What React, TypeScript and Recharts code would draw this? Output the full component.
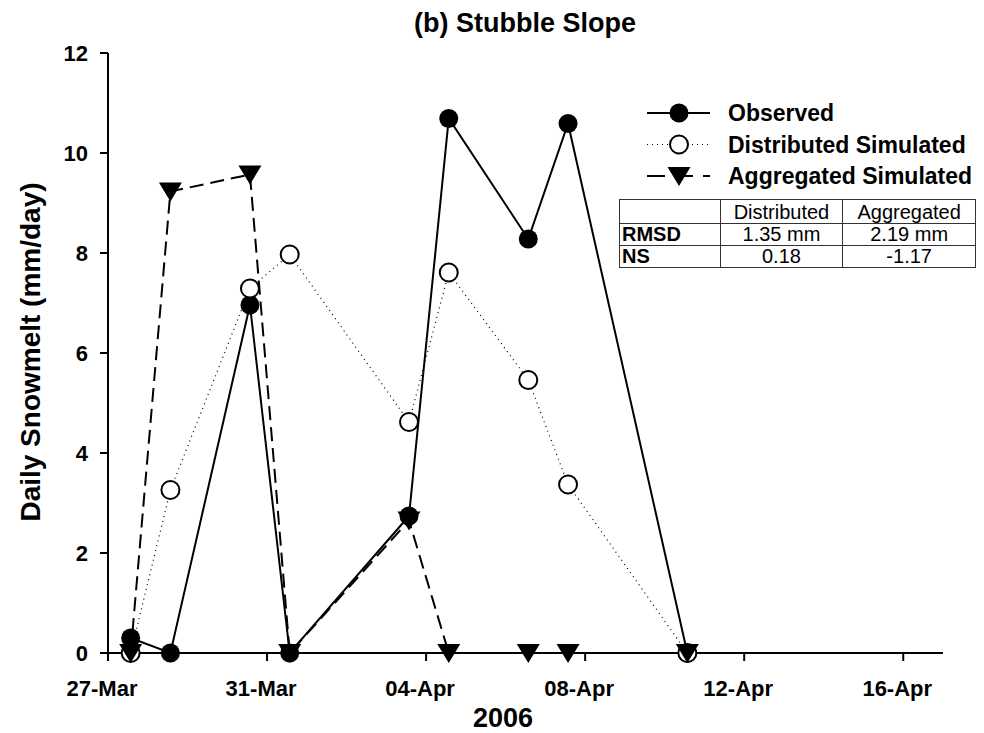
import React from "react";
import { Label, Legend, Line, LineChart, XAxis, YAxis } from "recharts";

// days after 27-Mar at which the snowmelt was recorded / simulated
const DAYS = [0.57, 1.57, 3.57, 4.57, 7.57, 8.57, 10.57, 11.57, 14.57];
const OBSERVED = [0.3, 0, 6.96, 0, 2.74, 10.69, 8.28, 10.59, 0];
const DISTRIBUTED = [0, 3.26, 7.29, 7.97, 4.62, 7.61, 5.46, 3.37, 0];
const AGGREGATED = [0, 9.23, 9.57, 0, 2.65, 0, 0, 0, 0];

const X_TICKS = [0, 4, 8, 12, 16, 20];
const X_TICK_LABELS = ["27-Mar", "31-Mar", "04-Apr", "08-Apr", "12-Apr", "16-Apr"];
const Y_TICKS = [0, 2, 4, 6, 8, 10, 12];

const SERIES_NAMES = ["Observed", "Distributed Simulated", "Aggregated Simulated"];
const STATS_HEADER = ["", "Distributed", "Aggregated"];
const STATS_ROWS = [
  ["RMSD", "1.35 mm", "2.19 mm"],
  ["NS", "0.18", "-1.17"],
];

const data = DAYS.map((day, i) => ({
  day,
  observed: OBSERVED[i],
  distributed: DISTRIBUTED[i],
  aggregated: AGGREGATED[i],
}));

const FONT = "'Liberation Sans', Arial, sans-serif";
const INK = "#000";

function FilledDot({ cx, cy }: { cx: number; cy: number }) {
  return <circle cx={cx} cy={cy} r={9.5} fill={INK} />;
}

function OpenDot({ cx, cy }: { cx: number; cy: number }) {
  return <circle cx={cx} cy={cy} r={9} fill="#fff" stroke={INK} strokeWidth={2} />;
}

function TriangleDot({ cx, cy }: { cx: number; cy: number }) {
  const d = `M${cx - 11.5},${cy - 9} L${cx + 11.5},${cy - 9} L${cx},${cy + 10} Z`;
  return <path d={d} fill={INK} />;
}

// symbol key plus the fit statistics table, drawn in the upper right
function LegendBlock() {
  const rows = [23, 54.5, 86];
  return (
    <div style={{ position: "relative", width: 384, height: 190 }}>
      <svg width={384} height={100} style={{ position: "absolute", left: 0, top: 0 }}>
        <line x1={47} y1={rows[0]} x2={110} y2={rows[0]} stroke={INK} strokeWidth={2} />
        <FilledDot cx={79} cy={rows[0]} />
        <line x1={47} y1={rows[1]} x2={110} y2={rows[1]} stroke={INK} strokeWidth={1.2} strokeDasharray="1 4" />
        <OpenDot cx={79} cy={rows[1]} />
        <line x1={47} y1={rows[2]} x2={110} y2={rows[2]} stroke={INK} strokeWidth={2} strokeDasharray="18 10" />
        <TriangleDot cx={79} cy={rows[2]} />
        {SERIES_NAMES.map((name, i) => (
          <text
            key={name}
            x={128}
            y={rows[i] + 8}
            fontFamily={FONT}
            fontWeight="bold"
            fontSize={23}
            fill={INK}
          >
            {name}
          </text>
        ))}
      </svg>
      <table
        style={{
          position: "absolute",
          left: 19,
          top: 109,
          width: 357,
          borderCollapse: "collapse",
          fontFamily: FONT,
          fontSize: 20,
          color: INK,
        }}
      >
        <colgroup>
          <col style={{ width: 101 }} />
          <col style={{ width: 123 }} />
          <col style={{ width: 133 }} />
        </colgroup>
        <tbody>
          <tr style={{ height: 24 }}>
            {STATS_HEADER.map((h, i) => (
              <td key={i} style={{ border: "1px solid #333", padding: 0, textAlign: "center", lineHeight: "22px" }}>
                {h}
              </td>
            ))}
          </tr>
          {STATS_ROWS.map((row) => (
            <tr key={row[0]} style={{ height: 22 }}>
              {row.map((cell, i) => (
                <td
                  key={i}
                  style={{
                    border: "1px solid #333",
                    padding: i === 0 ? "0 0 0 2px" : 0,
                    textAlign: i === 0 ? "left" : "center",
                    fontWeight: i === 0 ? "bold" : "normal",
                    lineHeight: "21px",
                  }}
                >
                  {cell}
                </td>
              ))}
            </tr>
          ))}
        </tbody>
      </table>
    </div>
  );
}

const tickStyle = { fill: INK, fontSize: 22, fontWeight: "bold", fontFamily: FONT };

export default function App() {
  return (
    <div style={{ position: "absolute", left: 0, top: 0, width: 984, height: 733, background: "#fff" }}>
      <svg width={984} height={50} style={{ position: "absolute", left: 0, top: 0 }}>
        <text x={525} y={32} textAnchor="middle" fontFamily={FONT} fontWeight="bold" fontSize={27} fill={INK}>
          (b) Stubble Slope
        </text>
      </svg>
      <LineChart width={984} height={733} data={data} margin={{ top: 53, right: 41, bottom: 0, left: 0 }}>
        <XAxis
          type="number"
          dataKey="day"
          domain={[0, 21]}
          ticks={X_TICKS}
          interval={0}
          allowDataOverflow
          height={80}
          tickSize={8}
          tickMargin={19}
          tickFormatter={(v: number) => X_TICK_LABELS[X_TICKS.indexOf(v)]}
          tick={{ ...tickStyle, dx: -6 }}
          axisLine={{ stroke: INK, strokeWidth: 2 }}
          tickLine={{ stroke: INK, strokeWidth: 2 }}
        >
          <Label
            content={() => (
              <text x={503} y={727} textAnchor="middle" fontFamily={FONT} fontWeight="bold" fontSize={27} fill={INK}>
                2006
              </text>
            )}
          />
        </XAxis>
        <YAxis
          type="number"
          domain={[0, 12]}
          ticks={Y_TICKS}
          interval={0}
          width={108}
          tickSize={8}
          tickMargin={12}
          tick={tickStyle}
          axisLine={{ stroke: INK, strokeWidth: 2 }}
          tickLine={{ stroke: INK, strokeWidth: 2 }}
        >
          <Label
            content={() => (
              <text
                x={0}
                y={0}
                transform="translate(40 352) rotate(-90)"
                textAnchor="middle"
                fontFamily={FONT}
                fontWeight="bold"
                fontSize={28}
                fill={INK}
              >
                Daily Snowmelt (mm/day)
              </text>
            )}
          />
        </YAxis>
        <Legend
          layout="vertical"
          align="center"
          verticalAlign="middle"
          wrapperStyle={{ position: "absolute", left: 600, top: 90, width: 384 }}
          content={() => <LegendBlock />}
        />
        <Line
          type="linear"
          dataKey="observed"
          stroke={INK}
          strokeWidth={2}
          dot={(p: any) => <FilledDot key={`o${p.index}`} cx={p.cx} cy={p.cy} />}
          activeDot={false}
          isAnimationActive={false}
        />
        <Line
          type="linear"
          dataKey="distributed"
          stroke={INK}
          strokeWidth={1.2}
          strokeDasharray="1 4"
          dot={(p: any) => <OpenDot key={`d${p.index}`} cx={p.cx} cy={p.cy} />}
          activeDot={false}
          isAnimationActive={false}
        />
        <Line
          type="linear"
          dataKey="aggregated"
          stroke={INK}
          strokeWidth={2}
          strokeDasharray="14 7"
          dot={(p: any) => <TriangleDot key={`a${p.index}`} cx={p.cx} cy={p.cy} />}
          activeDot={false}
          isAnimationActive={false}
        />
      </LineChart>
    </div>
  );
}
